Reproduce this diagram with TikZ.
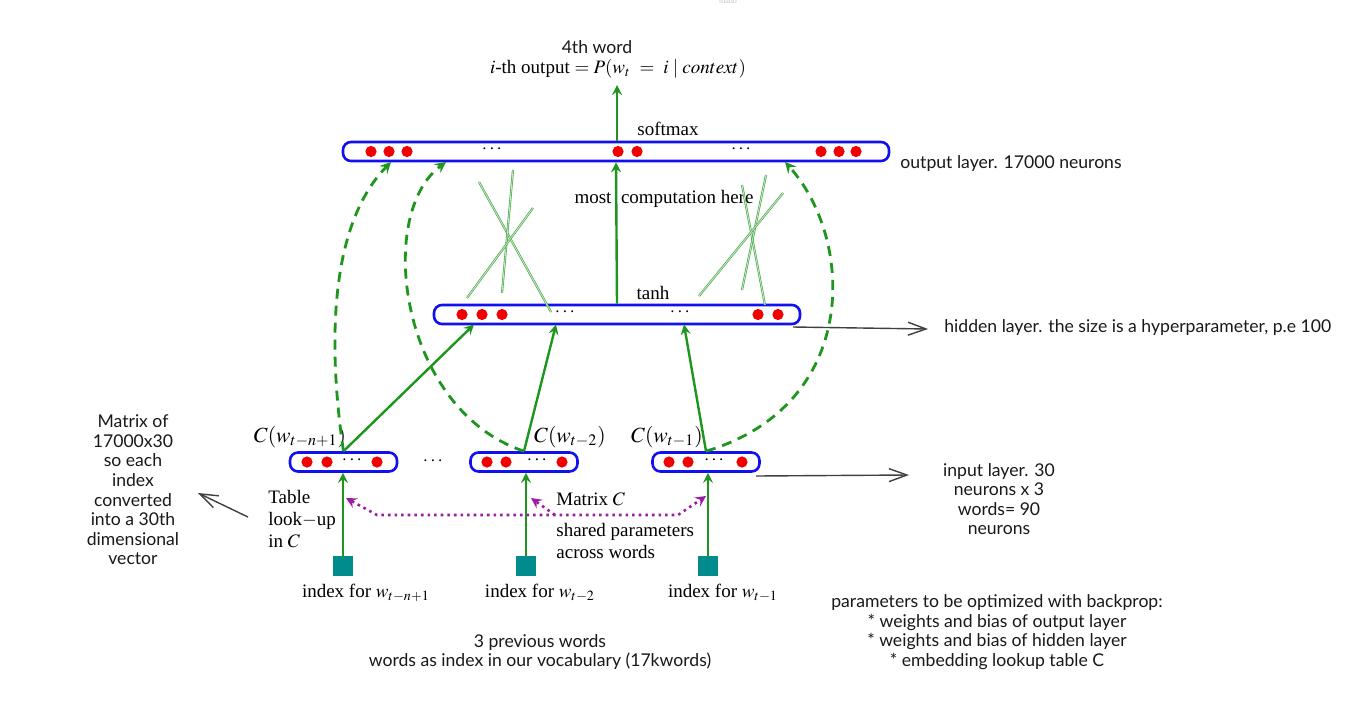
\documentclass[tikz,border=0pt]{standalone}
\usepackage{mathptmx}
\usepackage{fontspec}
\setmainfont{Liberation Serif}
\newfontfamily\handfont{Lato}
\usepackage{xcolor}
\definecolor{nnblue}{HTML}{1010F0}
\definecolor{nnred}{HTML}{F00000}
\definecolor{nngreen}{HTML}{1E961E}
\definecolor{nnteal}{HTML}{008C8C}
\definecolor{nnpurple}{HTML}{9C1CA8}
\def\maulop{nnblue}
\def\maunoron{nnred}
\def\mauxanh{nngreen}
\usetikzlibrary{arrows.meta,calc,positioning}

\begin{document}
\begin{tikzpicture}[x=0.5pt,y=-0.5pt]
		\tikzstyle{layerbox} = [draw=\maulop,line width=1.3pt,rounded corners=4pt,inner sep=0pt,minimum height=9.5pt]
		\tikzstyle{neuron} = [circle,fill=\maunoron,inner sep=0pt,minimum size=5.6pt]
		\tikzstyle{linkstyle} = [->,>=stealth,line width=1.2pt,\mauxanh]
		\tikzstyle{sharestyle} = [->,>=stealth,dash pattern=on 5pt off 3.5pt,line width=1.4pt,\mauxanh]
		\tikzstyle{crossline} = [\mauxanh!85,double=\mauxanh!25,line width=.3pt,double distance=.45pt]
		\tikzstyle{indexbox} = [fill=nnteal,minimum size=10pt,inner sep=0pt]
		\tikzstyle{lookupstyle} = [->,>=stealth,dotted,line width=1.3pt,nnpurple]
		\tikzstyle{papertext} = [font=\fontsize{9.5}{11}\selectfont,inner sep=0pt]
		\tikzstyle{handtext} = [font=\handfont\fontsize{8.8}{9.8}\selectfont,align=center,inner sep=0pt,black!90]
		\tikzstyle{notearrow} = [-{Straight Barb[length=9pt,width=6.5pt]},line width=.7pt,black!75]
		\path[use as bounding box,fill=white] (0,0) rectangle (1367,713);
		\node[font=\fontsize{4}{4}\selectfont,text=gray!45] (mano) at (728,2) {mano};
		% layers
		\node[layerbox,minimum width=273pt] (out) at (616,151.5) {};
		\node[layerbox,minimum width=183pt] (hid) at (617,314.5) {};
		\node[layerbox,minimum width=53.5pt] (in1) at (343.5,462) {};
		\node[layerbox,minimum width=53.5pt] (in2) at (524,462) {};
		\node[layerbox,minimum width=53.5pt] (in3) at (706,462) {};
		\foreach \x [count=\i] in {371,389,407,618,637,821,839,856}
			\node[neuron] (o\i) at (\x,151.5) {};
		\foreach \x [count=\i] in {462,482,502,758,778}
			\node[neuron] (h\i) at (\x,314.5) {};
		\foreach \x [count=\i] in {307,327,377,487,506,562,669,688,742}
			\node[neuron] (e\i) at (\x,462) {};
		\node[papertext] (od1) at (492,149) {$\cdots$};
		\node[papertext] (od2) at (741,149) {$\cdots$};
		\node[papertext] (hd1) at (565,312) {$\cdots$};
		\node[papertext] (hd2) at (680,312) {$\cdots$};
		\node[papertext] (ed1) at (352,460) {$\cdots$};
		\node[papertext] (ed2) at (537,460) {$\cdots$};
		\node[papertext] (ed3) at (714,460) {$\cdots$};
		\node[papertext] (ed0) at (433,461) {$\cdots$};
		% labels of the network
		\node[handtext] (w4) at (597,47) {4th word};
		\node[papertext] (io) at (618,69) {$i$-th output $= P(w_t\ =\ i\mid context)$};
		\node[papertext] (sm) at (668,129) {softmax};
		\node[papertext] (th) at (653,293) {tanh};
		\node[papertext] (mc) at (664,199) {most\ \ computation here};
		\node[papertext,font=\fontsize{10.8}{12}\selectfont] (c1) at (300,437) {$C(w_{t-n+1})$};
		\node[papertext,font=\fontsize{10.8}{12}\selectfont] (c2) at (570,437) {$C(w_{t-2})$};
		\node[papertext,font=\fontsize{10.8}{12}\selectfont] (c3) at (667,437) {$C(w_{t-1})$};
		% indices
		\node[indexbox] (s1) at (343,566) {};
		\node[indexbox] (s2) at (526,566) {};
		\node[indexbox] (s3) at (708,566) {};
		\node[papertext] (ix1) at (366,593) {index for $w_{t-n+1}$};
		\node[papertext] (ix2) at (540,593) {index for $w_{t-2}$};
		\node[papertext] (ix3) at (723,593) {index for $w_{t-1}$};
		\node[papertext,align=left,anchor=north west] (tbl) at (268,490) {Table\\look$-$up\\in $C$};
		\node[papertext,anchor=west] (mtc) at (556,499) {Matrix $C$};
		\node[papertext,align=left,anchor=north west] (shr) at (556,523) {shared parameters\\across words};
		% connections
		\coordinate (top) at (617,85);
		\coordinate (hb1) at (474,324.5);
		\coordinate (hb2) at (556,324.5);
		\coordinate (hb3) at (684,324.5);
		\draw[linkstyle] (out.north-|top) -- (top);
		\draw[linkstyle] (hid.north) -- (out.south);
		\draw[linkstyle] (in1.north) -- (hb1);
		\draw[linkstyle] (in2.north) -- (hb2);
		\draw[linkstyle] (in3.north) -- (hb3);
		\draw[sharestyle] (in1.north) .. controls (330,360) and (325,230) .. (391,162);
		\draw[sharestyle] (in2.north) .. controls (400,410) and (375,215) .. (446,162);
		\draw[sharestyle] (in3.north) .. controls (860,405) and (855,240) .. (785,162);
		\foreach \k in {1,2,3}
			\draw[linkstyle] (s\k.north) -- (s\k.north|-in\k.south);
		% thin crossing lines
		\draw[crossline] (479,182) -- (551,312);
		\draw[crossline] (513,170) -- (502,293);
		\draw[crossline] (533,208) -- (467,298);
		\draw[crossline] (742,185) -- (765,305);
		\draw[crossline] (766,175) -- (742,290);
		\draw[crossline] (783,193) -- (699,296);
		% table look-up
		\coordinate (pl) at (377,515);
		\coordinate (pm) at (555,515);
		\coordinate (pr) at (678,515);
		\coordinate (la1) at (346,498);
		\coordinate (la2) at (531,498);
		\coordinate (la3) at (706,496);
		\draw[lookupstyle,<->] (la1) -- (pl) -- (pr) -- (la3);
		\draw[lookupstyle] (pm) -- (la2);
		% notes
		\node[handtext,anchor=west] (onote) at (900,164) {output layer. 17000 neurons};
		\node[handtext,anchor=west] (hnote) at (944,328) {hidden layer. the size is a hyperparameter, p.e 100};
		\node[handtext] (inote) at (999,499) {input layer. 30\\neurons x 3\\words= 90\\neurons};
		\node[handtext] (mnote) at (133,490) {Matrix of\\17000x30\\so each\\index\\converted\\into a 30th\\dimensional\\vector};
		\node[handtext] (prev) at (540,652) {3 previous words\\words as index in our vocabulary (17kwords)};
		\node[handtext] (par) at (997,632) {parameters to be optimized with backprop:\\* weights and bias of output layer\\* weights and bias of hidden layer\\* embedding lookup table C};
		\coordinate (hn0) at (793,327);
		\coordinate (hn1) at (928,329);
		\coordinate (in0) at (756,476);
		\coordinate (inn) at (909,475);
		\coordinate (ta0) at (248,517);
		\coordinate (ta1) at (198,493);
		\draw[notearrow] (hn0) -- (hn1);
		\draw[notearrow] (in0) -- (inn);
		\draw[notearrow] (ta0) -- (ta1);
\end{tikzpicture}
\end{document}
